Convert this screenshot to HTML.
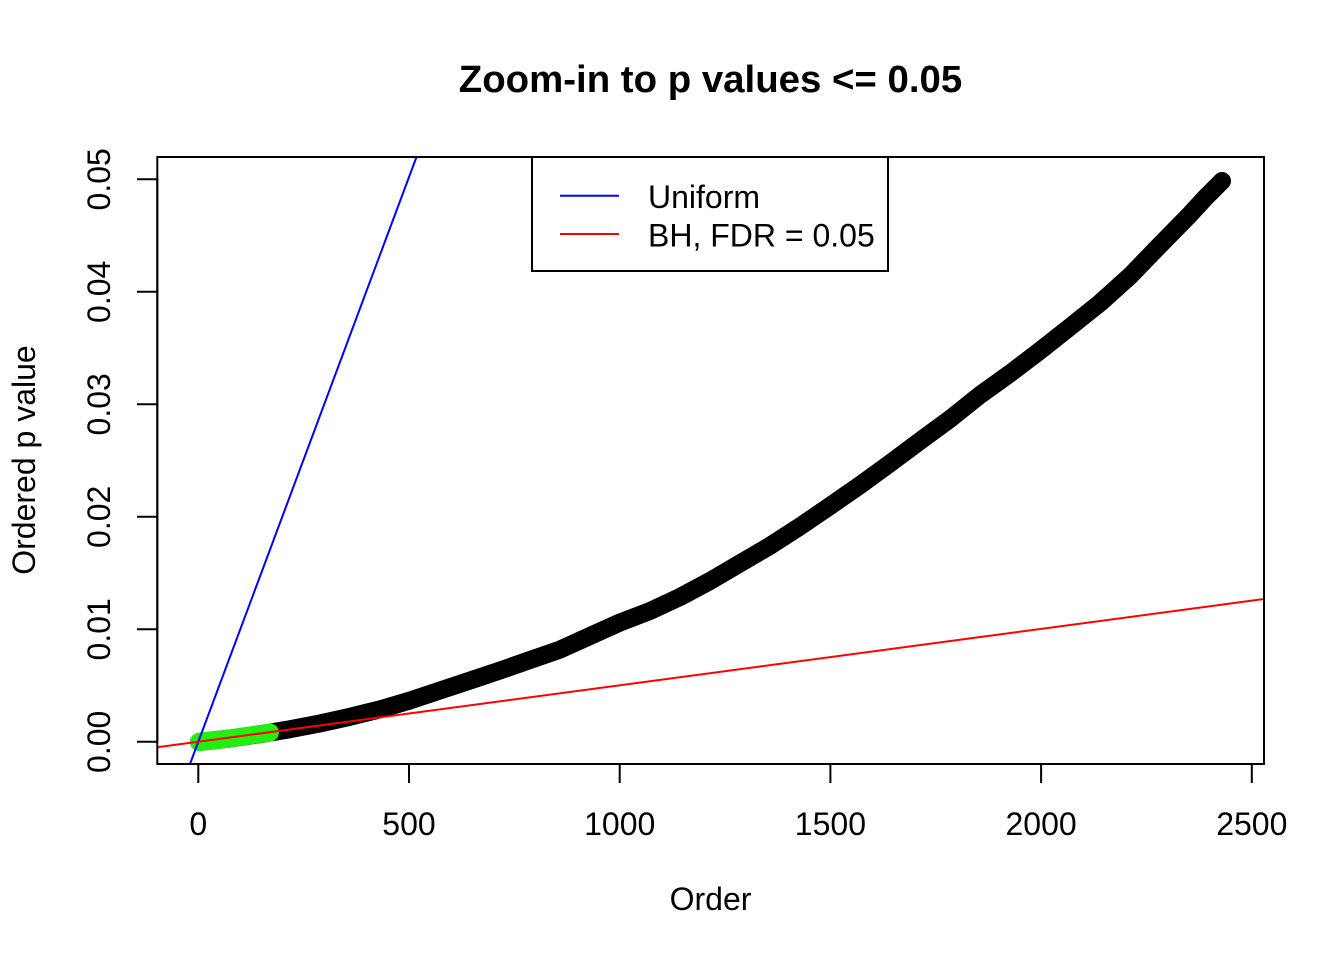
<!DOCTYPE html>
<html>
<head>
<meta charset="utf-8">
<style>
  html, body { margin: 0; padding: 0; background: #ffffff; }
  svg { display: block; }
  text { font-family: "Liberation Sans", Arial, sans-serif; fill: #000; }
</style>
</head>
<body>
<svg width="1344" height="960" viewBox="0 0 1344 960" xmlns="http://www.w3.org/2000/svg">
  <rect x="0" y="0" width="1344" height="960" fill="#ffffff"/>
  <defs>
    <clipPath id="plotclip">
      <rect x="157.3" y="157" width="1106.7" height="607"/>
    </clipPath>
  </defs>

  <!-- Title -->
  <text x="710.5" y="92" font-size="38.4" font-weight="bold" text-anchor="middle">Zoom-in to p values &lt;= 0.05</text>

  <!-- Data curve (black points) -->
  <polyline fill="none" stroke="#000000" stroke-width="18" stroke-linecap="round" stroke-linejoin="round"
    points="199,742 230,738.5 260,734.2 290,729.2 320,723.4 350,716.8 380,709.4 410,700.5 440,690.5 470,680.6 500,670.5 530,660 560,649.6 590,636 620,622.5 650,611 680,597 710,581 740,563.4 770,545.8 800,526.4 830,506 860,485.2 890,463.4 920,441 950,419 980,395 1010,373.5 1040,350.7 1070,327 1100,303 1130,276 1160,245 1190,214.4 1206,197 1222,181"/>

  <!-- Green (significant) points -->
  <polyline fill="none" stroke="#22ee11" stroke-width="18" stroke-linecap="round" stroke-linejoin="round"
    points="199,742 230,738.5 250,735.5 270,732.5"/>

  <!-- Reference lines -->
  <g clip-path="url(#plotclip)">
    <line x1="190.0" y1="764" x2="416.5" y2="157" stroke="#0000ff" stroke-width="2"/>
    <line x1="157" y1="747.3" x2="1264" y2="599.0" stroke="#ff0000" stroke-width="2"/>
  </g>

  <!-- Plot box -->
  <rect x="157.3" y="157" width="1106.7" height="607" fill="none" stroke="#000" stroke-width="2"/>

  <!-- X axis ticks -->
  <g stroke="#000" stroke-width="2">
    <line x1="198.3" y1="764" x2="1251.8" y2="764"/>
    <line x1="198.3" y1="764" x2="198.3" y2="783"/>
    <line x1="409.0" y1="764" x2="409.0" y2="783"/>
    <line x1="619.7" y1="764" x2="619.7" y2="783"/>
    <line x1="830.4" y1="764" x2="830.4" y2="783"/>
    <line x1="1041.1" y1="764" x2="1041.1" y2="783"/>
    <line x1="1251.8" y1="764" x2="1251.8" y2="783"/>
  </g>
  <g font-size="32" text-anchor="middle">
    <text x="198.3" y="835">0</text>
    <text x="409.0" y="835">500</text>
    <text x="619.7" y="835">1000</text>
    <text x="830.4" y="835">1500</text>
    <text x="1041.1" y="835">2000</text>
    <text x="1251.8" y="835">2500</text>
  </g>

  <!-- Y axis ticks -->
  <g stroke="#000" stroke-width="2">
    <line x1="157.3" y1="179.3" x2="157.3" y2="741.8"/>
    <line x1="137" y1="741.8" x2="157.3" y2="741.8"/>
    <line x1="137" y1="629.3" x2="157.3" y2="629.3"/>
    <line x1="137" y1="516.8" x2="157.3" y2="516.8"/>
    <line x1="137" y1="404.3" x2="157.3" y2="404.3"/>
    <line x1="137" y1="291.8" x2="157.3" y2="291.8"/>
    <line x1="137" y1="179.3" x2="157.3" y2="179.3"/>
  </g>
  <g font-size="32" text-anchor="middle">
    <text transform="translate(110,741.8) rotate(-90)">0.00</text>
    <text transform="translate(110,629.3) rotate(-90)">0.01</text>
    <text transform="translate(110,516.8) rotate(-90)">0.02</text>
    <text transform="translate(110,404.3) rotate(-90)">0.03</text>
    <text transform="translate(110,291.8) rotate(-90)">0.04</text>
    <text transform="translate(110,179.3) rotate(-90)">0.05</text>
  </g>

  <!-- Axis titles -->
  <text x="710.5" y="910" font-size="32" text-anchor="middle">Order</text>
  <text transform="translate(35,460) rotate(-90)" font-size="32" text-anchor="middle">Ordered p value</text>

  <!-- Legend -->
  <rect x="532" y="157" width="356" height="114" fill="#ffffff" stroke="#000" stroke-width="2"/>
  <line x1="560" y1="195.7" x2="619" y2="195.7" stroke="#0000ff" stroke-width="2"/>
  <line x1="560" y1="234" x2="619" y2="234" stroke="#ff0000" stroke-width="2"/>
  <text x="648" y="208" font-size="32">Uniform</text>
  <text x="648" y="246.5" font-size="32">BH, FDR = 0.05</text>
</svg>
</body>
</html>
